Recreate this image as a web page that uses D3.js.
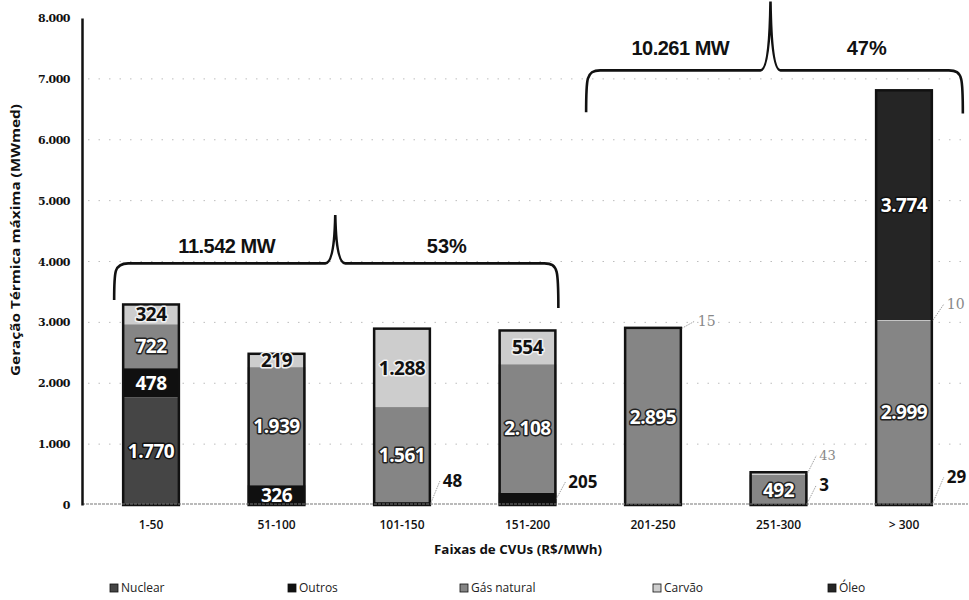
<!DOCTYPE html>
<html><head><meta charset="utf-8">
<script src="https://cdn.jsdelivr.net/npm/d3@7"></script>
<style>
body{margin:0;background:#fff;}
svg{display:block;}
</style></head>
<body><svg id="chart" width="969" height="600"></svg>
<script>
// ---------- DATA ----------
const categories = ["1-50","51-100","101-150","151-200","201-250","251-300","> 300"];
const seriesNames = ["Nuclear","Outros","Gás natural","Carvão","Óleo"];
const nuclear    = [1770,   0,    0,    0,    0,   0,    0];
const outros     = [ 478, 326,   48,  205,    0,   3,   29];
const gasNatural = [ 722,1939, 1561, 2108, 2895, 492, 2999];
const carvao     = [ 324, 219, 1288,  554,   15,  43,   10];
const oleo       = [   0,   0,    0,    0,    0,   0, 3774];
const yTicks = [0,1000,2000,3000,4000,5000,6000,7000,8000];
const yTickLabels = ["0","1.000","2.000","3.000","4.000","5.000","6.000","7.000","8.000"];
const groupLabels = ["11.542 MW","10.261 MW"];
const groupPct = ["53%","47%"];
const groupFrom = ["1-50","201-250"];
const groupTo = ["151-200","> 300"];
const groupLevel = [3970, 7140];

// ---------- STYLE ----------
const colors = {"Nuclear":"#454545","Outros":"#101010","Gás natural":"#858585","Carvão":"#cdcdcd","Óleo":"#252525"};
const labelFill = {"Nuclear":"#fff","Outros":"#fff","Gás natural":"#fff","Carvão":"#111","Óleo":"#fff"};
const labelHalo = {"Nuclear":"#111","Outros":"#111","Gás natural":"#222","Carvão":"#f2f2f2","Óleo":"#111"};
// outside labels for small segments (style offsets)
const outsideStyle = {
  "101-150|Outros":{dx:12,y:487,bold:true,color:"#111",size:17},
  "151-200|Outros":{dx:12,y:488,bold:true,color:"#111",size:17},
  "201-250|Carvão":{dx:16,y:326,bold:false,color:"#888",size:14},
  "251-300|Carvão":{dx:12,y:460,bold:false,color:"#888",size:13},
  "251-300|Outros":{dx:12,y:491,bold:true,color:"#111",size:17},
  "> 300|Carvão":{dx:14,y:309,bold:false,color:"#888",size:14},
  "> 300|Outros":{dx:14,y:483,bold:true,color:"#111",size:17}
};
const bracketStyle = [
  {dl:-8, dr:2, bottomL:3366, bottomR:3235, peak:4762, textDy:-10},
  {dl:-38, dr:30, bottomL:6450, bottomR:6430, peak:8270, textDy:-15}
];

const fmt = v => d3.format(",")(v).replace(/,/g,".");

const svg = d3.select("#chart");
const x = d3.scaleBand().domain(categories).range([82,973]).paddingInner(0.54).paddingOuter(0.32);
const y = d3.scaleLinear().domain([0,8000]).range([505,18]);

// gridlines (faint dotted)
svg.append("g").selectAll("line").data(yTicks.slice(1,-1)).join("line")
  .attr("x1",88).attr("x2",965).attr("y1",d=>y(d)).attr("y2",d=>y(d))
  .attr("stroke","#bdbdbd").attr("stroke-width",1).attr("stroke-dasharray","1.5,9");

// stacked data
const table = categories.map((c,i)=>({cat:c,"Nuclear":nuclear[i],"Outros":outros[i],"Gás natural":gasNatural[i],"Carvão":carvao[i],"Óleo":oleo[i]}));
const stack = d3.stack().keys(seriesNames)(table);

const gBars = svg.append("g");
stack.forEach(layer=>{
  gBars.append("g").selectAll("rect").data(layer.filter(d=>d[1]-d[0]>0)).join("rect")
    .attr("x",d=>x(d.data.cat)).attr("width",x.bandwidth())
    .attr("y",d=>y(d[1])).attr("height",d=>y(d[0])-y(d[1]))
    .attr("fill",colors[layer.key]);
});
// bar side borders
const totals = table.map(r=>seriesNames.reduce((s,k)=>s+r[k],0));
svg.append("g").selectAll("rect").data(categories).join("rect")
  .attr("x",d=>x(d)+1).attr("width",x.bandwidth()-2)
  .attr("y",(d,i)=>y(totals[i])).attr("height",(d,i)=>y(0)-y(totals[i]))
  .attr("fill","none").attr("stroke","#111").attr("stroke-width",2.5);

// axes
svg.append("line").attr("x1",82).attr("x2",968).attr("y1",y(0)-1).attr("y2",y(0)-1)
  .attr("stroke","#777").attr("stroke-width",1.2).attr("stroke-dasharray","3,1");
const yAxis = d3.axisLeft(y).tickValues(yTicks).tickFormat((d,i)=>yTickLabels[i]).tickSize(0).tickPadding(12);
const gy = svg.append("g").attr("transform","translate(82,0)").call(yAxis);
gy.select(".domain").attr("stroke","#111").attr("stroke-width",2.5);
gy.selectAll("text").attr("font-family","'DejaVu Serif', 'Liberation Serif', serif").attr("font-weight","bold")
  .attr("font-size",11).attr("fill","#111").attr("letter-spacing","-0.5");

const xAxis = d3.axisBottom(x).tickSize(0).tickPadding(15);
const gx = svg.append("g").attr("transform",`translate(0,${y(0)})`).call(xAxis);
gx.select(".domain").remove();
gx.selectAll("text").attr("font-family","'Open Sans', sans-serif").attr("font-size",12)
  .attr("fill","#111").attr("font-weight","600");

// axis titles
svg.append("text").attr("x",518).attr("y",554).attr("text-anchor","middle")
  .attr("font-family","'Open Sans', sans-serif").attr("font-size",13).attr("font-weight","bold").attr("fill","#111")
  .attr("textLength",168).attr("lengthAdjust","spacingAndGlyphs")
  .text("Faixas de CVUs (R$/MWh)");
svg.append("text").attr("transform","translate(20,240) rotate(-90)").attr("text-anchor","middle")
  .attr("font-family","'Open Sans', sans-serif").attr("font-size",12).attr("font-weight","bold").attr("fill","#111")
  .attr("textLength",272).attr("lengthAdjust","spacingAndGlyphs")
  .text("Geração Térmica máxima (MWmed)");

// in-bar labels
const gLab = svg.append("g");
stack.forEach(layer=>{
  layer.forEach(d=>{
    const v = d[1]-d[0];
    if(v<=0) return;
    const key = d.data.cat+"|"+layer.key;
    if(outsideStyle[key]){
      const s = outsideStyle[key];
      const xe = x(d.data.cat)+x.bandwidth();
      const ym = y((d[0]+d[1])/2);
      gLab.append("path").attr("d",`M${xe},${Math.min(ym,y(0)-2)} L${xe+s.dx-3},${s.y-s.size*0.35}`)
        .attr("stroke","#888").attr("stroke-width",0.8).attr("stroke-dasharray","1.5,1").attr("fill","none");
      gLab.append("text").attr("x",xe+s.dx).attr("y",s.y)
        .attr("font-family",s.bold?"'Open Sans', sans-serif":"'DejaVu Serif', serif")
        .attr("font-weight",s.bold?"bold":"normal").attr("font-size",s.size).attr("fill",s.color)
        .text(fmt(v));
    } else {
      gLab.append("text").attr("x",x(d.data.cat)+x.bandwidth()/2).attr("y",y((d[0]+d[1])/2)+7)
        .attr("text-anchor","middle").attr("font-family","'Open Sans', sans-serif").attr("font-weight","bold")
        .attr("font-size",19).attr("letter-spacing","-0.5")
        .attr("fill",labelFill[layer.key]).attr("stroke",labelHalo[layer.key]).attr("stroke-width",3)
        .attr("paint-order","stroke").attr("stroke-linejoin","round")
        .text(fmt(v));
    }
  });
});

// brackets
groupLabels.forEach((lab,i)=>{
  const st = bracketStyle[i];
  const xl = x(groupFrom[i])+st.dl;
  const xr = x(groupTo[i])+x.bandwidth()+st.dr;
  const hy = y(groupLevel[i]);
  const px = (xl+xr)/2 - (i===0?1:4);
  const top = y(st.peak);
  const p = `M${xl},${y(st.bottomL)} C${xl},${hy+8} ${xl},${hy} ${xl+14},${hy} L${px-10},${hy} Q${px-1},${hy} ${px},${top} Q${px+1},${hy} ${px+10},${hy} L${xr-14},${hy} C${xr},${hy} ${xr},${hy+8} ${xr},${y(st.bottomR)}`;
  svg.append("path").attr("d",p).attr("fill","none").attr("stroke","#111").attr("stroke-width",2.6);
  svg.append("text").attr("x",(xl+px)/2+2).attr("y",hy+st.textDy).attr("text-anchor","middle")
    .attr("font-family","'Liberation Sans', Arial, sans-serif").attr("font-weight","bold").attr("font-size",20)
    .attr("fill","#111").attr("letter-spacing","-0.5").text(lab);
  svg.append("text").attr("x",(px+xr)/2).attr("y",hy+st.textDy).attr("text-anchor","middle")
    .attr("font-family","'Liberation Sans', Arial, sans-serif").attr("font-weight","bold").attr("font-size",20)
    .attr("fill","#111").text(groupPct[i]);
});

// legend
const legendX = [110,288,460,653,828];
const lg = svg.append("g");
seriesNames.forEach((n,i)=>{
  lg.append("rect").attr("x",legendX[i]).attr("y",584).attr("width",8).attr("height",8)
    .attr("fill",colors[n]).attr("stroke","#111").attr("stroke-width",0.8);
  lg.append("text").attr("x",legendX[i]+11).attr("y",592)
    .attr("font-family","'Open Sans', sans-serif").attr("font-size",12).attr("fill","#222").text(n);
});
</script></body></html>
